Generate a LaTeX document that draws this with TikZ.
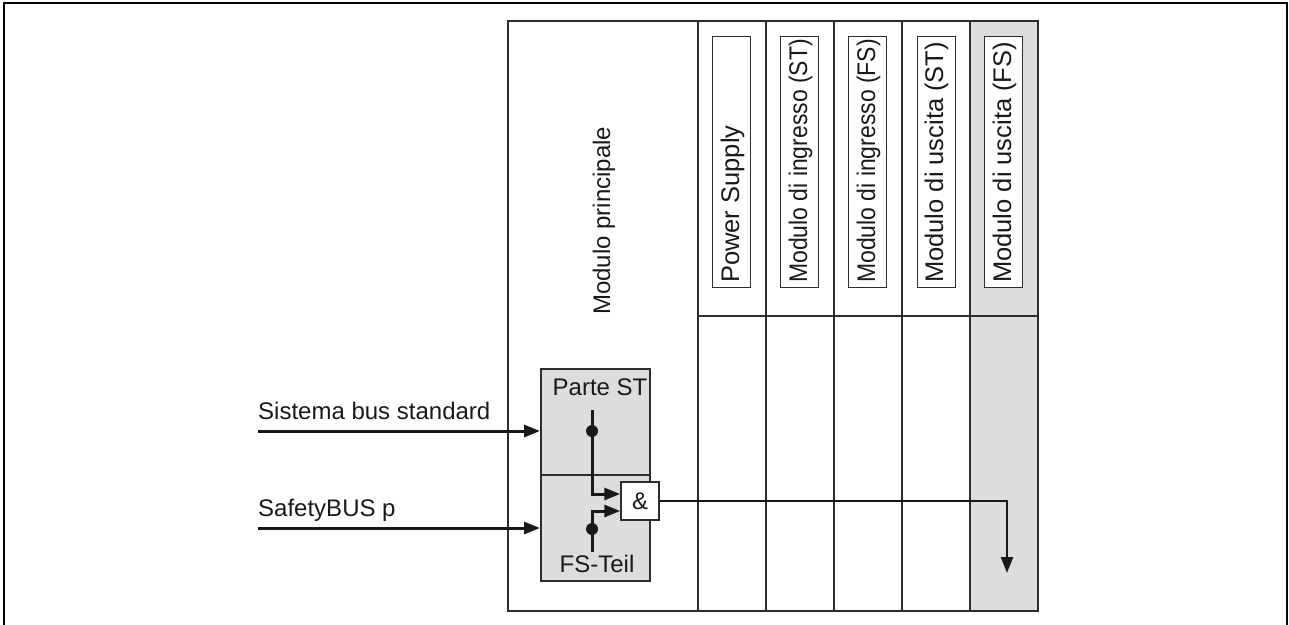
\documentclass[tikz,border=0pt]{standalone}
\usepackage{fontspec}
\setmainfont{Liberation Sans}
\usetikzlibrary{arrows.meta}
\definecolor{panelgray}{RGB}{220,221,223}
\definecolor{edge}{RGB}{45,45,45}
\begin{document}
\begin{tikzpicture}[x=1pt,y=-1pt,
  lbl/.style={font=\fontsize{24}{28}\selectfont, inner sep=0pt, text=black!90},
  clbl/.style={font=\fontsize{25.5}{30}\selectfont, inner sep=0pt, text=black!90, rotate=90, anchor=base west},
  rlbl/.style={lbl, rotate=90, anchor=base west},
  panel/.style={draw=edge, line width=1.5pt, inner sep=0pt, anchor=north west},
  tag/.style={draw=edge, line width=1.2pt, fill=white, inner sep=0pt, anchor=north west, minimum width=38pt, minimum height=251pt},
  wire/.style={line width=3pt, draw=black!90},
  tip/.style={-{Triangle[length=16pt,width=12pt]}},
  dot/.style={circle, fill=black!90, inner sep=0pt, minimum size=12pt}]
\useasboundingbox (0,0) rectangle (1289,624);
% outer frame
\draw[line width=2pt] (4,640) -- (4,3) -- (1287,3) -- (1287,640);
% main module
\node[panel, minimum width=190pt, minimum height=590pt] (main) at (507,20) {};
\node[rlbl] (mainlbl) at (610,315) {Modulo principale};
% columns
\node[panel, minimum width=68pt, minimum height=590pt] (c1) at (697,20) {};
\node[panel, minimum width=68pt, minimum height=590pt] (c2) at (765,20) {};
\node[panel, minimum width=68pt, minimum height=590pt] (c3) at (833,20) {};
\node[panel, minimum width=68pt, minimum height=590pt] (c4) at (901,20) {};
\node[panel, fill=panelgray, minimum width=68pt, minimum height=590pt] (c5) at (969,20) {};
\draw[draw=edge, line width=1.5pt] (697,316) -- (1037,316);
% column tags
\node[tag] (t1) at (712,36) {};
\node[clbl] (l1) at (739,283) {Power Supply};
\node[tag] (t2) at (780,36) {};
\node[clbl] (l2) at (807,283) {\scalebox{0.9}[1]{Modulo di ingresso (ST)}};
\node[tag] (t3) at (848,36) {};
\node[clbl] (l3) at (875,283) {\scalebox{0.9}[1]{Modulo di ingresso (FS)}};
\node[tag] (t4) at (917,36) {};
\node[clbl] (l4) at (943,283) {Modulo di uscita (ST)};
\node[tag] (t5) at (984,36) {};
\node[clbl] (l5) at (1011,283) {Modulo di uscita (FS)};
% inner parts
\node[panel, fill=panelgray, minimum width=109pt, minimum height=106pt] (st) at (540,368) {};
\node[panel, fill=panelgray, minimum width=109pt, minimum height=106pt] (fs) at (540,474) {};
\node[lbl, anchor=base] (stl) at (600,395) {Parte ST};
\node[lbl, anchor=base] (fsl) at (597,572) {FS-Teil};
\node[draw=edge, line width=1.5pt, fill=white, inner sep=0pt, minimum width=38pt, minimum height=38pt, lbl] (and) at (640,501) {\&};
% wires
\node[dot] (d1) at (592,431) {};
\node[dot] (d2) at (592,529) {};
\coordinate (s1) at (592,410);
\coordinate (s2) at (592,552);
\draw[wire] (s1) -- (d1.center);
\draw[wire, tip] (d1.center) |- ([yshift=7pt]and.west);
\draw[wire] (s2) -- (d2.center);
\draw[wire, tip] (d2.center) |- ([yshift=-10pt]and.west);
% inputs
\coordinate (in1) at (258,431);
\coordinate (in2) at (258,528);
\draw[wire, tip] (in1) -- (in1 -| st.west);
\draw[wire, tip] (in2) -- (in2 -| fs.west);
\node[lbl, anchor=base west] (inl1) at (258,419) {Sistema bus standard};
\node[lbl, anchor=base west] (inl2) at (258,516) {SafetyBUS p};
% output
\coordinate (out) at (1007,573);
\draw[wire, line width=2.5pt, tip] (and.east) -| (out);
\end{tikzpicture}
\end{document}
